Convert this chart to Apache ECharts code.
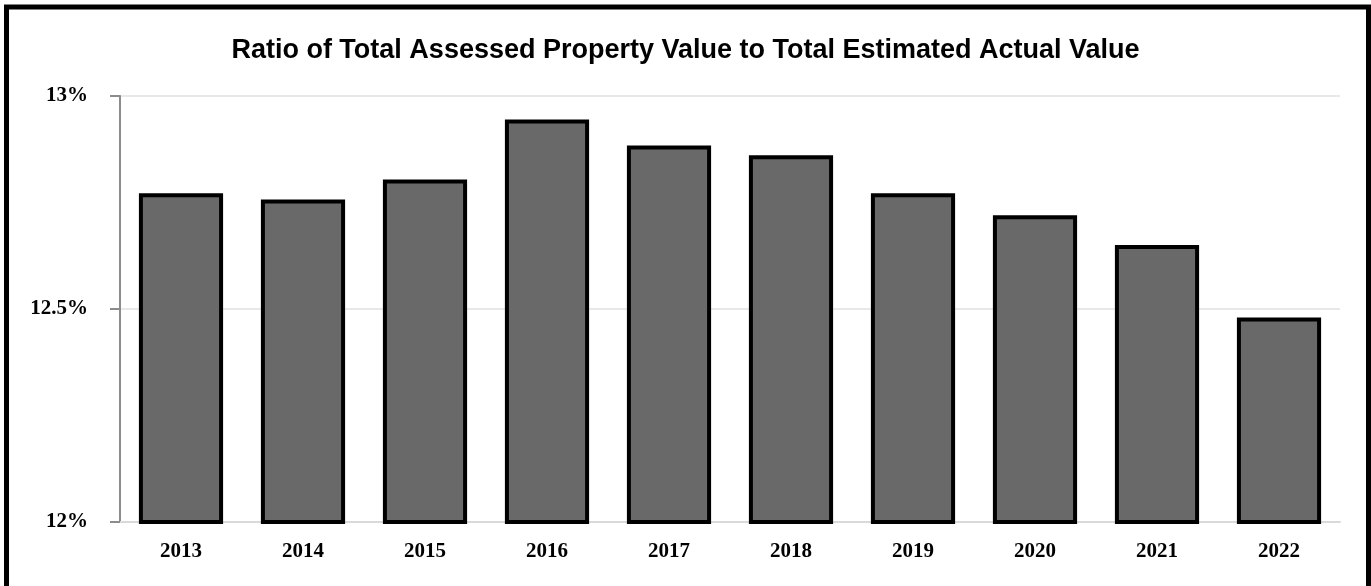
<!DOCTYPE html>
<html>
<head>
<meta charset="utf-8">
<script src="https://cdn.jsdelivr.net/npm/echarts@6/dist/echarts.min.js"></script>
<style>
  html, body { margin: 0; padding: 0; background: #fff; }
  #chart { width: 1371px; height: 586px; }
</style>
</head>
<body>
<div id="chart"></div>
<script>
// Fiscal years shown along the bottom
const years = ['2013', '2014', '2015', '2016', '2017', '2018', '2019', '2020', '2021', '2022'];
// Assessed value as a percentage of estimated actual value
const ratios = [12.772, 12.757, 12.804, 12.945, 12.884, 12.861, 12.772, 12.720, 12.650, 12.480];
// Value axis ticks
const yTicks = [12, 12.5, 13];

const chart = echarts.init(document.getElementById('chart'), null, { renderer: 'canvas' });

chart.setOption({
  animation: false,
  backgroundColor: '#ffffff',
  title: {
    text: 'Ratio of Total Assessed Property Value to Total Estimated Actual Value',
    left: 'center',
    top: 32,
    textStyle: {
      fontFamily: '"Liberation Sans", Arial, sans-serif',
      fontWeight: 'bold',
      fontSize: 27,
      color: '#000'
    }
  },
  graphic: [{
    type: 'rect',
    shape: { x: 6.5, y: 7, width: 1362, height: 700 },
    style: { fill: 'none', stroke: '#000', lineWidth: 5 },
    silent: true
  }],
  grid: { left: 120, right: 31, top: 96, bottom: 64 },
  xAxis: {
    type: 'category',
    data: years,
    axisLine: { show: true, lineStyle: { color: '#d9d9d9', width: 2 } },
    axisTick: { show: false },
    axisLabel: {
      margin: 19,
      fontFamily: '"Liberation Serif", "Times New Roman", serif',
      fontWeight: 'bold',
      fontSize: 21,
      color: '#000'
    }
  },
  yAxis: {
    type: 'value',
    min: yTicks[0],
    max: yTicks[yTicks.length - 1],
    interval: yTicks[1] - yTicks[0],
    axisLine: { show: true, lineStyle: { color: '#8c8c8c', width: 2 } },
    axisTick: { show: true, length: 10, lineStyle: { color: '#8c8c8c', width: 2 } },
    splitLine: { show: true, lineStyle: { color: '#e8e8e8', width: 2 } },
    axisLabel: {
      margin: 32,
      fontFamily: '"Liberation Serif", "Times New Roman", serif',
      fontWeight: 'bold',
      fontSize: 21,
      color: '#000',
      formatter: v => (Math.round(v * 10) / 10) + '%'
    }
  },
  series: [{
    type: 'bar',
    data: ratios,
    barCategoryGap: '31%',
    itemStyle: { color: '#696969', borderColor: '#000', borderWidth: 4 }
  }]
});
</script>
</body>
</html>
